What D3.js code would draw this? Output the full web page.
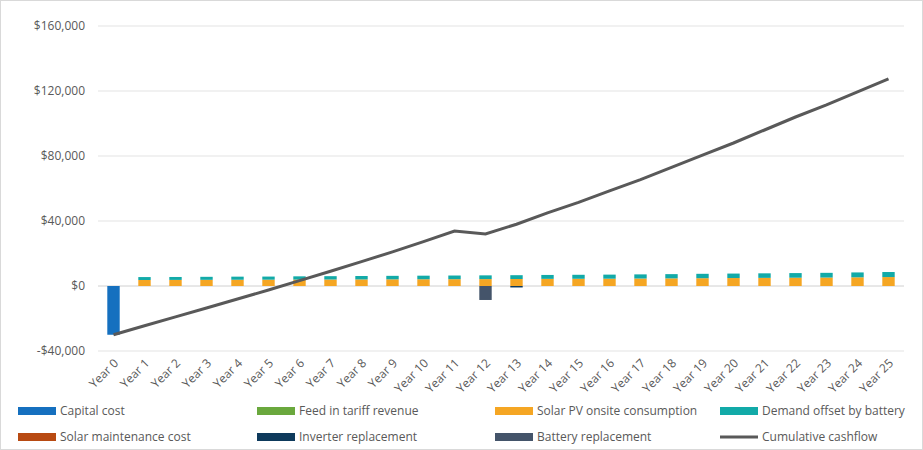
<!DOCTYPE html><html><head><meta charset="utf-8"><script src="https://cdn.jsdelivr.net/npm/d3@7"></script>
<style>body{margin:0;background:#fff;font-family:"Open Sans",Arial,sans-serif}</style></head><body><svg id="c" width="923" height="450"></svg><script>
const years=d3.range(26).map(i=>"Year "+i);
const capital=[-30000].concat(Array(25).fill(0));
const feedIn=Array(26).fill(0);
const solarPV=[0,3700,3750,3800,3850,3900,3950,4000,4050,4100,4150,4200,4250,4300,4400,4450,4500,4600,4700,4800,4900,5000,5100,5200,5350,5500];
const battery=[0,1800,1800,1850,1900,1900,2000,2050,2100,2150,2200,2250,2300,2350,2400,2450,2500,2550,2600,2700,2750,2800,2850,2900,3000,3100];
const maintenance=Array(26).fill(0);
const inverter=Array(26).fill(0);inverter[13]=-900;
const batteryRepl=Array(26).fill(0);batteryRepl[12]=-8600;
const cumulative=[-30000,-24500,-19000,-13500,-8000,-2500,3300,9100,15000,21000,27300,33800,32000,38000,45000,51500,58500,65500,73000,80500,88000,96000,104000,111500,119500,127500];
const yTicks=[-40000,0,40000,80000,120000,160000];
const series=[
{name:"Capital cost",v:capital,c:"#1570bf"},
{name:"Feed in tariff revenue",v:feedIn,c:"#6aa83d"},
{name:"Solar PV onsite consumption",v:solarPV,c:"#f5a623"},
{name:"Demand offset by battery",v:battery,c:"#12aaa8"},
{name:"Solar maintenance cost",v:maintenance,c:"#b84a12"},
{name:"Inverter replacement",v:inverter,c:"#0e3a5c"},
{name:"Battery replacement",v:batteryRepl,c:"#44546a"}];
const svg=d3.select("#c");
svg.append("rect").attr("x",0.5).attr("y",0.5).attr("width",922).attr("height",449).attr("fill","#fff").attr("stroke","#d9d9d9");
const x=d3.scaleBand().domain(years).range([98,904]).paddingInner(0.6).paddingOuter(0.3);
const y=d3.scaleLinear().domain([-40000,160000]).range([351,26]);
const g=svg.append("g");
yTicks.forEach(t=>{g.append("line").attr("x1",98).attr("x2",904).attr("y1",y(t)).attr("y2",y(t)).attr("stroke",t===0?"#d0d0d0":"#e3e3e3").attr("stroke-width",1);});
const ya=svg.append("g").attr("transform","translate(88,0)").call(d3.axisLeft(y).tickValues(yTicks).tickSize(0).tickFormat(d=>(d<0?"-$":"$")+d3.format(",")(Math.abs(d))));
ya.select(".domain").remove();
ya.selectAll("text").attr("font-size",12).attr("fill","#595959").attr("font-family","Open Sans");
// stacked bars
years.forEach((yr,i)=>{let pos=0,neg=0;series.forEach(s=>{const v=s.v[i];if(!v)return;let y0,y1;if(v>0){y0=pos;y1=pos+v;pos=y1;}else{y0=neg;y1=neg+v;neg=y1;}
svg.append("rect").attr("x",x(yr)).attr("width",x.bandwidth()).attr("y",y(Math.max(y0,y1))).attr("height",Math.abs(y(y0)-y(y1))).attr("fill",s.c);});});
const line=d3.line().x((d,i)=>x(years[i])+x.bandwidth()/2).y(d=>y(d));
svg.append("path").datum(cumulative).attr("d",line).attr("fill","none").attr("stroke","#595959").attr("stroke-width",3);
const xa=svg.append("g").attr("transform","translate(0,"+(y(-40000)+4)+")").call(d3.axisBottom(x).tickSize(0));
xa.select(".domain").remove();
xa.selectAll("text").attr("font-size",12).attr("fill","#595959").attr("font-family","Open Sans").attr("text-anchor","end").attr("transform","rotate(-45)").attr("dx","-0.2em").attr("dy","0.6em");
const leg=[...series,{name:"Cumulative cashflow",c:"#595959",line:true}];
const lx=[18,257,495,720];
leg.forEach((s,i)=>{const cx=lx[i%4],cy=i<4?411:437;const gg=svg.append("g");
if(s.line)gg.append("line").attr("x1",cx).attr("x2",cx+38).attr("y1",cy).attr("y2",cy).attr("stroke",s.c).attr("stroke-width",3);
else gg.append("rect").attr("x",cx).attr("y",cy-4).attr("width",38).attr("height",8).attr("fill",s.c);
gg.append("text").attr("x",cx+42).attr("y",cy+4).attr("font-size",12).attr("fill","#595959").text(s.name);});
</script></body></html>
